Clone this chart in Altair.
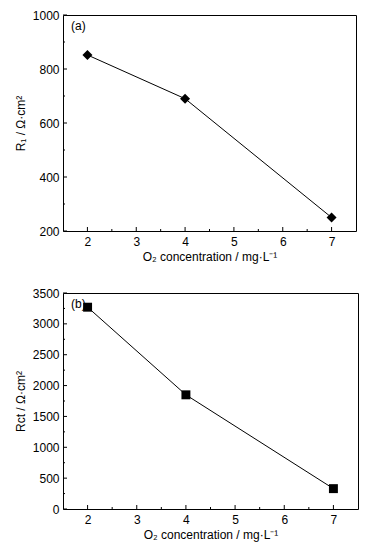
import altair as alt
import pandas as pd

# data
conc = [2, 4, 7]
r1_vals = [852, 690, 250]
rct_vals = [3270, 1850, 330]

x_major = [2, 3, 4, 5, 6, 7]
x_minor = [2.5, 3.5, 4.5, 5.5, 6.5]
y1_major = [200, 400, 600, 800, 1000]
y1_minor = [300, 500, 700, 900]
y2_major = [0, 500, 1000, 1500, 2000, 2500, 3000, 3500]
y2_minor = [250, 750, 1250, 1750, 2250, 2750, 3250]

FONT = "Liberation Sans"
X_TITLE = "O\u2082 concentration / mg\u00b7L\u207b\u00b9"


def panel(xs, ys, ydom, ymaj, ymin, ytitle, shape, size, tag, W, H):
    xsc = alt.Scale(domain=[1.5, 7.5], nice=False, zero=False)
    ysc = alt.Scale(domain=ydom, nice=False, zero=False)
    df = pd.DataFrame({"x": xs, "y": ys})
    xaxis = alt.Axis(values=x_major, ticks=False, domain=False, grid=False,
                     labelPadding=5, title=X_TITLE, titlePadding=4,
                     format="d")
    yaxis = alt.Axis(values=ymaj, ticks=False, domain=False, grid=False,
                     labelPadding=4, title=ytitle, titlePadding=5,
                     format="d")
    X = lambda f: alt.X(f, scale=xsc, axis=xaxis, title=X_TITLE)
    Y = lambda f: alt.Y(f, scale=ysc, axis=yaxis, title=ytitle)
    line = alt.Chart(df).mark_line(color="black", strokeWidth=1).encode(
        x=X("x:Q"), y=Y("y:Q"))
    pts = alt.Chart(df).mark_point(shape=shape, filled=True, color="black",
                                   size=size, opacity=1).encode(
        x=X("x:Q"), y=Y("y:Q"))
    xmaj = alt.Chart(pd.DataFrame({"x": x_major})).mark_rule(
        color="black", strokeWidth=1).encode(
        x=X("x:Q"), y=alt.value(H), y2=alt.value(H - 4))
    xmin = alt.Chart(pd.DataFrame({"x": x_minor})).mark_rule(
        color="black", strokeWidth=1).encode(
        x=X("x:Q"), y=alt.value(H), y2=alt.value(H - 2))
    ymj = alt.Chart(pd.DataFrame({"y": ymaj})).mark_rule(
        color="black", strokeWidth=1).encode(
        y=Y("y:Q"), x=alt.value(0), x2=alt.value(4))
    ymn = alt.Chart(pd.DataFrame({"y": ymin})).mark_rule(
        color="black", strokeWidth=1).encode(
        y=Y("y:Q"), x=alt.value(0), x2=alt.value(2))
    lab = alt.Chart(pd.DataFrame({"t": [tag]})).mark_text(
        align="left", baseline="middle", font=FONT, fontSize=12,
        color="black").encode(
        x=alt.value(8), y=alt.value(11), text="t:N")
    return alt.layer(line, pts, xmaj, xmin, ymj, ymn, lab).properties(
        width=W, height=H)


top = panel(conc, r1_vals, [200, 1000], y1_major, y1_minor,
            "R\u2081 / \u03a9\u00b7cm\u00b2", "diamond", 100, "(a)", 293, 216)
bot = panel(conc, rct_vals, [0, 3500], y2_major, y2_minor,
            "Rct / \u03a9\u00b7cm\u00b2", "square", 80, "(b)", 295, 216)

chart = alt.vconcat(top, bot, spacing=23).properties(
    padding={"left": 5, "top": 0, "right": 5, "bottom": 5}
).configure_view(
    stroke="black", strokeWidth=1
).configure_axis(
    labelFont=FONT, titleFont=FONT, labelFontSize=12, titleFontSize=12,
    labelColor="black", titleColor="black", titleFontWeight="normal"
)

chart.save("out.html", embed_options={"renderer": "svg", "actions": False})
